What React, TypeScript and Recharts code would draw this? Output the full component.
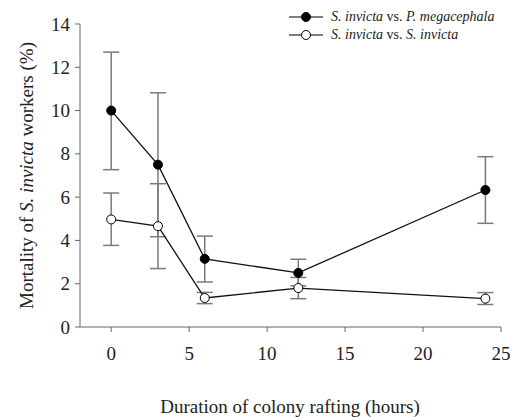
import React from 'react';
import { LineChart, Line, XAxis, YAxis, ErrorBar } from 'recharts';

const hours = [0, 3, 6, 12, 24];

const vsMegacephala = [10, 7.5, 3.15, 2.5, 6.33];
const vsMegacephalaLow = [7.27, 4.17, 2.08, 1.9, 4.79];
const vsMegacephalaHigh = [12.7, 10.82, 4.2, 3.13, 7.87];

const vsInvicta = [4.97, 4.66, 1.34, 1.8, 1.31];
const vsInvictaLow = [3.77, 2.7, 1.08, 1.31, 1.04];
const vsInvictaHigh = [6.19, 6.62, 1.6, 2.29, 1.59];

const xTicks = [0, 5, 10, 15, 20, 25];
const yTicks = [0, 2, 4, 6, 8, 10, 12, 14];

const data = hours.map((h, i) => ({
  x: h,
  meg: vsMegacephala[i],
  megErr: [vsMegacephala[i] - vsMegacephalaLow[i], vsMegacephalaHigh[i] - vsMegacephala[i]],
  inv: vsInvicta[i],
  invErr: [vsInvicta[i] - vsInvictaLow[i], vsInvictaHigh[i] - vsInvicta[i]],
}));

const FONT = "'Liberation Serif', 'Times New Roman', serif";
const AXIS = '#666';
const ERR = '#7a7a7a';
const txt = { fontFamily: FONT, fontSize: 19, fill: '#222' };

const XTick = (props: any) => {
  const { x, y, payload } = props;
  return (
    <text x={x} y={y + 19} textAnchor="middle" dominantBaseline="central" style={txt}>
      {payload.value}
    </text>
  );
};

const YTick = (props: any) => {
  const { x, y, payload } = props;
  return (
    <text x={x - 3} y={y} textAnchor="end" dominantBaseline="central" style={txt}>
      {payload.value}
    </text>
  );
};

const YLabel = (props: any) => {
  const { viewBox } = props;
  const cy = viewBox.y + viewBox.height / 2;
  const cx = 26;
  return (
    <text
      x={cx}
      y={cy}
      transform={`rotate(-90, ${cx}, ${cy})`}
      textAnchor="middle"
      dominantBaseline="central"
      style={txt}
    >
      <tspan>Mortality of </tspan>
      <tspan fontStyle="italic">S. invicta</tspan>
      <tspan> workers (%)</tspan>
    </text>
  );
};

const XLabel = () => (
  <text x={290} y={406} textAnchor="middle" dominantBaseline="central" style={txt}>
    Duration of colony rafting (hours)
  </text>
);

const LegendBox = () => {
  const row = (filled: boolean, second: string) => (
    <div style={{ display: 'flex', alignItems: 'center', height: 18 }}>
      <svg width={36} height={12} style={{ marginRight: 6 }}>
        <line x1={0} y1={6} x2={34} y2={6} stroke="#555" strokeWidth={1.5} />
        <circle cx={17} cy={6} r={4.5} fill={filled ? '#000' : '#fff'} stroke="#000" strokeWidth={1} />
      </svg>
      <span>
        <i>S. invicta</i> vs. <i>{second}</i>
      </span>
    </div>
  );
  return (
    <div style={{ position: 'absolute', left: 289, top: 8, fontFamily: FONT, fontSize: 14, color: '#222', lineHeight: '18px' }}>
      {row(true, 'P. megacephala')}
      {row(false, 'S. invicta')}
    </div>
  );
};

export default function App() {
  return (
    <div style={{ position: 'absolute', left: 0, top: 0, width: 515, height: 417, background: '#fff', fontFamily: FONT }}>
      <LineChart
        width={515}
        height={417}
        data={data}
        margin={{ top: 24, right: 14, left: 30, bottom: 60 }}
        style={{ fontFamily: FONT }}
      >
        <XAxis
          type="number"
          dataKey="x"
          domain={[-2, 25]}
          ticks={xTicks}
          height={30}
          stroke={AXIS}
          tickSize={5}
          tick={<XTick />}
          label={<XLabel />}
        />
        <YAxis
          type="number"
          domain={[0, 14]}
          ticks={yTicks}
          width={50}
          stroke={AXIS}
          tickSize={5}
          tick={<YTick />}
          label={<YLabel />}
        />
        <Line
          dataKey="meg"
          stroke="#111"
          strokeWidth={1.3}
          isAnimationActive={false}
          dot={{ r: 4.5, fill: '#000', stroke: '#000', strokeWidth: 1 }}
        >
          <ErrorBar dataKey="megErr" direction="y" width={8} stroke={ERR} strokeWidth={1.5} />
        </Line>
        <Line
          dataKey="inv"
          stroke="#111"
          strokeWidth={1.3}
          isAnimationActive={false}
          dot={{ r: 4.5, fill: '#fff', stroke: '#000', strokeWidth: 1 }}
        >
          <ErrorBar dataKey="invErr" direction="y" width={8} stroke={ERR} strokeWidth={1.5} />
        </Line>
      </LineChart>
      <LegendBox />
    </div>
  );
}
